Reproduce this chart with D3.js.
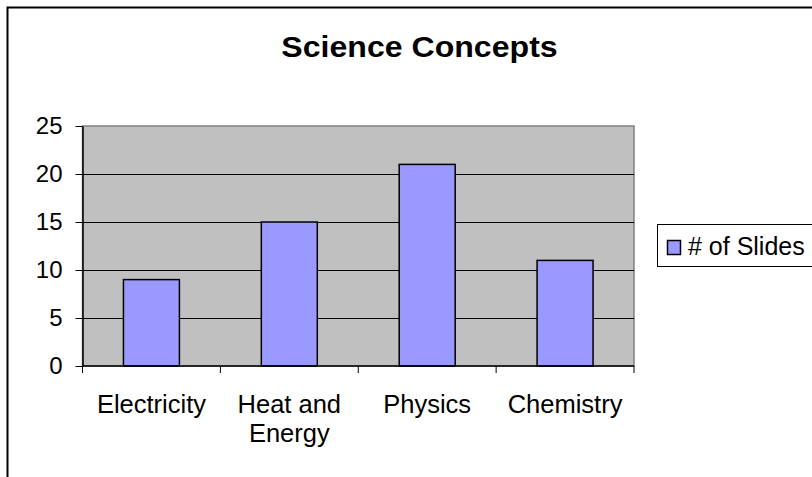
<!DOCTYPE html>
<html>
<head>
<meta charset="utf-8">
<script src="https://cdn.jsdelivr.net/npm/d3@7"></script>
<style>
  html, body { margin: 0; padding: 0; background: #fff; }
  svg { display: block; font-family: "Liberation Sans", Arial, sans-serif; }
</style>
</head>
<body>
<svg id="chart" width="812" height="477"></svg>
<script>
// Chart data
const chartTitle = "Science Concepts";
const seriesName = "# of Slides";
const categories = [["Electricity"], ["Heat and", "Energy"], ["Physics"], ["Chemistry"]];
const slides = [9, 15, 21, 11];
const yTicks = [0, 5, 10, 15, 20, 25];

const svg = d3.select("#chart");
const W = 812, H = 477;

// Outer chart frame (runs past the right and bottom edges)
svg.append("rect")
  .attr("x", 7.5).attr("y", 7.5)
  .attr("width", W + 20).attr("height", H + 20)
  .attr("fill", "#fff").attr("stroke", "#000").attr("stroke-width", 2);

// Plot area
const plot = { left: 82.5, right: 634, top: 126, bottom: 366 };

const x = d3.scaleBand()
  .domain(d3.range(categories.length))
  .range([plot.left, plot.right])
  .paddingInner(0.594)
  .paddingOuter(0.297);

const xBand = d3.scaleBand()
  .domain(d3.range(categories.length))
  .range([plot.left, plot.right]);

const y = d3.scaleLinear().domain([0, 25]).range([plot.bottom, plot.top]);

// Grey background of the plot
svg.append("rect")
  .attr("x", plot.left).attr("y", plot.top)
  .attr("width", plot.right - plot.left).attr("height", plot.bottom - plot.top)
  .attr("fill", "#c0c0c0").attr("stroke", "#808080").attr("stroke-width", 1.5);

// Horizontal gridlines
svg.append("g")
  .selectAll("line")
  .data(yTicks.filter(t => t > 0 && t < 25))
  .join("line")
  .attr("x1", plot.left).attr("x2", plot.right)
  .attr("y1", d => Math.round(y(d)) + 0.5).attr("y2", d => Math.round(y(d)) + 0.5)
  .attr("stroke", "#000").attr("stroke-width", 1);

// Bars
svg.append("g")
  .selectAll("rect")
  .data(slides)
  .join("rect")
  .attr("x", (d, i) => x(i))
  .attr("y", d => y(d))
  .attr("width", x.bandwidth())
  .attr("height", d => y(0) - y(d))
  .attr("fill", "#9999ff")
  .attr("stroke", "#000").attr("stroke-width", 1.5);

// Y axis
const yAxis = svg.append("g")
  .attr("transform", `translate(${plot.left},0)`)
  .call(d3.axisLeft(y).tickValues(yTicks).tickSize(7).tickPadding(13).tickSizeOuter(0));
yAxis.select(".domain").attr("stroke", "#000").attr("stroke-width", 1.5);
yAxis.selectAll(".tick line").attr("stroke", "#000");
yAxis.selectAll(".tick text")
  .attr("font-size", 24).attr("fill", "#000")
  .attr("font-family", "Liberation Sans, Arial, sans-serif");

// X axis: tick marks at category boundaries
const xAxisG = svg.append("g");
xAxisG.append("line")
  .attr("x1", plot.left).attr("x2", plot.right)
  .attr("y1", plot.bottom).attr("y2", plot.bottom)
  .attr("stroke", "#000").attr("stroke-width", 1.5);
const bounds = d3.range(categories.length + 1).map(i =>
  i < categories.length ? xBand(i) : xBand(i - 1) + xBand.bandwidth());
xAxisG.selectAll("line.tk")
  .data(bounds)
  .join("line")
  .attr("class", "tk")
  .attr("x1", d => d).attr("x2", d => d)
  .attr("y1", plot.bottom).attr("y2", plot.bottom + 7)
  .attr("stroke", "#000");

// Category labels
xAxisG.selectAll("text.cat")
  .data(categories)
  .join("text")
  .attr("class", "cat")
  .attr("text-anchor", "middle")
  .attr("font-size", 25.5)
  .attr("fill", "#000")
  .attr("x", (d, i) => xBand(i) + xBand.bandwidth() / 2)
  .attr("y", 412.5)
  .each(function(lines, i) {
    const t = d3.select(this);
    lines.forEach((ln, k) => {
      t.append("tspan")
        .attr("x", xBand(i) + xBand.bandwidth() / 2)
        .attr("dy", k === 0 ? 0 : 29)
        .text(ln);
    });
  });

// Title (slightly widened bold face)
svg.append("text")
  .attr("transform", "translate(419.5,57) scale(1.07,1)")
  .attr("text-anchor", "middle")
  .attr("font-size", 30).attr("font-weight", "bold")
  .attr("fill", "#000")
  .text(chartTitle);

// Legend
const legend = svg.append("g");
legend.append("rect")
  .attr("x", 657.5).attr("y", 224.5)
  .attr("width", 180).attr("height", 42)
  .attr("fill", "#fff").attr("stroke", "#000").attr("stroke-width", 1);
legend.append("rect")
  .attr("x", 667.5).attr("y", 240.5)
  .attr("width", 13).attr("height", 14)
  .attr("fill", "#9999ff").attr("stroke", "#000").attr("stroke-width", 1.5);
legend.append("text")
  .attr("x", 688).attr("y", 255)
  .attr("font-size", 25).attr("fill", "#000")
  .text(seriesName);
</script>
</body>
</html>
